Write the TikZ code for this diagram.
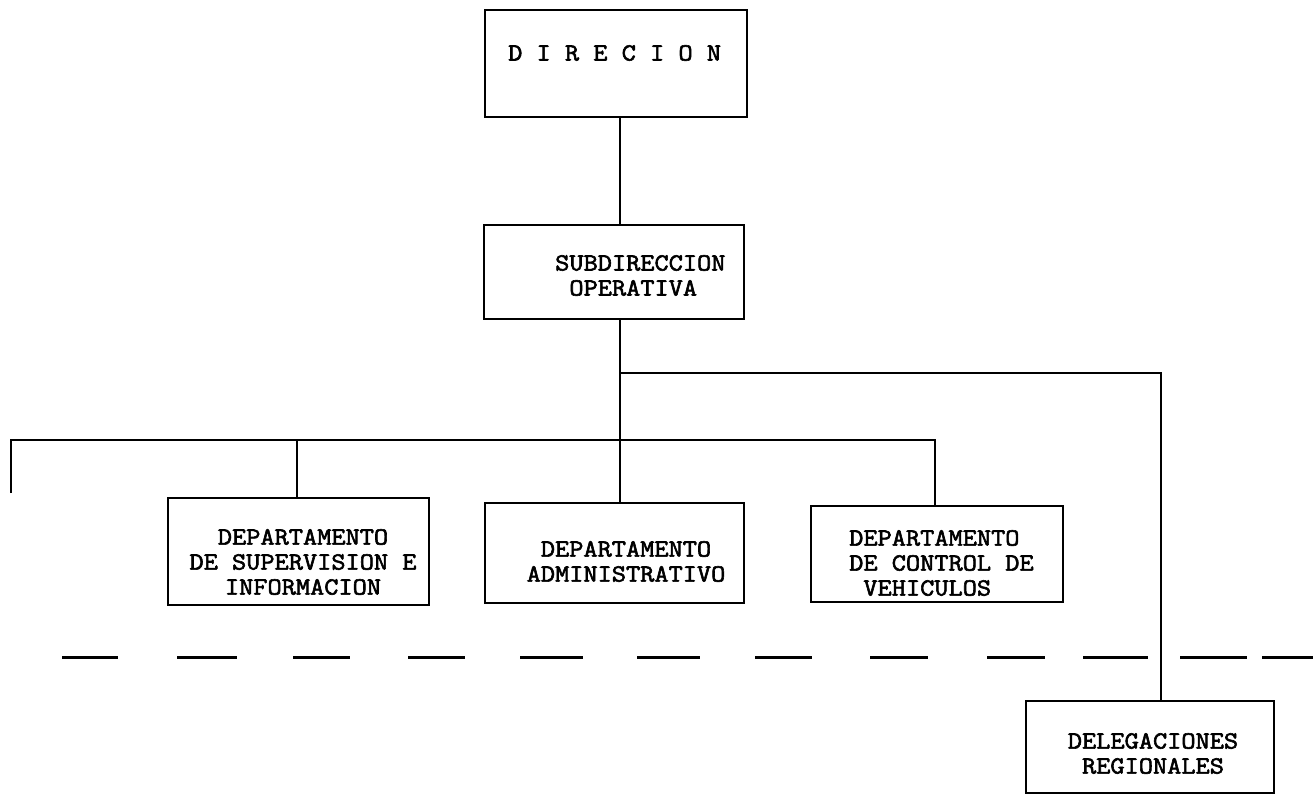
\documentclass[tikz,border=0pt]{standalone}
\usepackage{fontspec}
\newfontfamily\typewriter[FakeStretch=1.12, FakeBold=2.4]{Latin Modern Mono}
\begin{document}
\begin{tikzpicture}[x=1pt,y=-1pt,
  unit/.style={draw, line width=2.2pt, inner sep=0pt},
  txt/.style={font=\typewriter\fontsize{24.6}{25}\selectfont, inner sep=0pt},
  link/.style={line width=2pt},
  sep/.style={line width=3pt}
]
\useasboundingbox (0,0) rectangle (1313,795);

% boxes
\node[unit, minimum width=262pt, minimum height=107pt] (dir) at (616,63.5) {};
\node[unit, minimum width=260pt, minimum height=94pt]  (sub) at (614,272) {};
\node[unit, minimum width=261pt, minimum height=107pt] (sup) at (298.5,551.5) {};
\node[unit, minimum width=259pt, minimum height=100pt] (adm) at (614.5,553) {};
\node[unit, minimum width=252pt, minimum height=96pt]  (ctl) at (937,554) {};
\node[unit, minimum width=248pt, minimum height=92pt]  (del) at (1150,747) {};

% box texts
\node[txt, anchor=west] (dir-t) at (508,53) {D I R E C I O N};
\node[txt, anchor=west, align=left] (sub-t) at (555,275.5) {SUBDIRECCION\\\phantom{X}OPERATIVA};
\node[txt, align=center] (sup-t) at (303,562) {DEPARTAMENTO\\DE SUPERVISION E\\INFORMACION};
\node[txt, align=center] (adm-t) at (626,561.5) {DEPARTAMENTO\\ADMINISTRATIVO};
\node[txt, anchor=west, align=left] (ctl-t) at (849,563) {DEPARTAMENTO\\DE CONTROL DE\\\phantom{X}VEHICULOS};
\node[txt, align=center] (del-t) at (1153,753.5) {DELEGACIONES\\REGIONALES};

% junction points
\coordinate (trunk) at (620,373);
\coordinate (reg) at (1161,373);
\coordinate (left-end) at (11,493);
\coordinate (bus-l) at (11,440);
\coordinate (bus-r) at (935,440);
\coordinate (sup-drop) at (297,440);

% connectors
\draw[link] (dir.south -| trunk) -- (sub.north -| trunk);
\draw[link] (sub.south -| trunk) -- (adm.north -| trunk);
\draw[link] (trunk) -- (reg) -- (del.north -| reg);
\draw[link] (left-end) -- (bus-l) -- (bus-r) -- (ctl.north -| bus-r);
\draw[link] (sup-drop) -- (sup.north -| sup-drop);

% dashed separator
\foreach \a/\b in {62/118,177/237,293/350,408/465,520/583,637/700,755/812,870/928,987/1045,1083/1148,1180/1247,1262/1313}
  \draw[sep] (\a,657) -- (\b,657);
\end{tikzpicture}
\end{document}
